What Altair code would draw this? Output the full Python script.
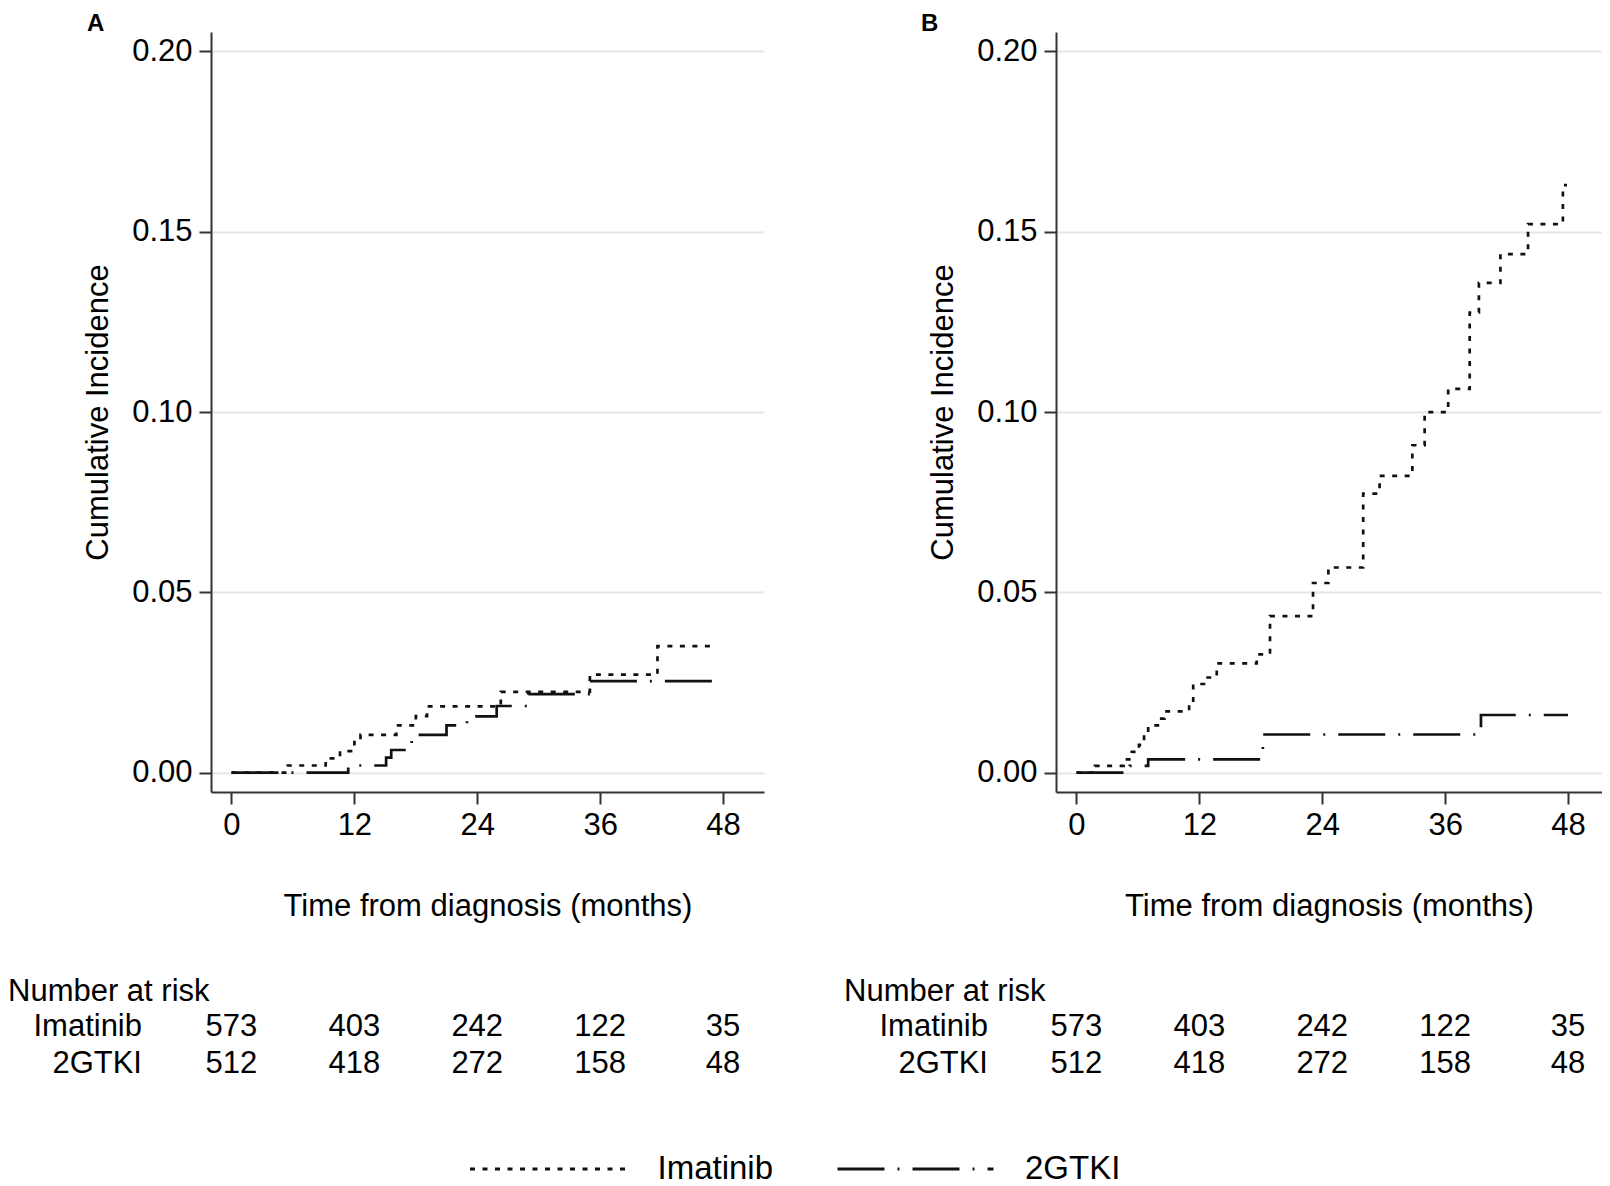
import altair as alt
import pandas as pd

FONT = "Liberation Sans"

# ---------------- data ----------------
GROUPS = ["Imatinib", "2GTKI"]
TICKS_X = [0, 12, 24, 36, 48]
TICKS_Y = [0.00, 0.05, 0.10, 0.15, 0.20]

RISK_MONTHS = [0, 12, 24, 36, 48]
RISK_IMATINIB = [573, 403, 242, 122, 35]
RISK_2GTKI = [512, 418, 272, 158, 48]

# Panel A step curves (months, cumulative incidence)
A_IMA_T = [0, 5.5, 9.2, 10.6, 12.0, 12.6, 16.1, 18.0, 19.1, 26.3, 35.0, 41.6, 47.2]
A_IMA_V = [0, 0.0020, 0.0040, 0.0060, 0.0085, 0.0105, 0.0131, 0.0157, 0.0184,
           0.0224, 0.0272, 0.0351, 0.0351]
A_TKI_T = [0, 11.4, 15.1, 15.6, 17.6, 21.0, 23.0, 25.9, 29.0, 35.0, 47.1]
A_TKI_V = [0, 0.0020, 0.0042, 0.0063, 0.0105, 0.0131, 0.0156, 0.0185, 0.0218,
           0.0254, 0.0254]

# Panel B step curves
B_IMA_T = [0, 1.8, 4.6, 5.4, 6.1, 6.6, 7.0, 8.1, 8.6, 11.0, 11.4, 12.6, 13.7,
           17.6, 18.9, 23.1, 24.6, 28.0, 29.6, 32.8, 34.0, 36.3, 38.4, 39.3,
           41.4, 44.1, 47.5, 47.9]
B_IMA_V = [0, 0.0019, 0.0037, 0.0058, 0.0077, 0.0110, 0.0131, 0.0150, 0.0170,
           0.0200, 0.0246, 0.0264, 0.0303, 0.0328, 0.0434, 0.0526, 0.0569,
           0.0774, 0.0823, 0.0908, 0.1000, 0.1064, 0.1276, 0.1358, 0.1438,
           0.1521, 0.1629, 0.1629]
B_TKI_T = [0, 5.2, 7.0, 18.2, 39.5, 48.0]
B_TKI_V = [0, 0.0019, 0.0037, 0.0106, 0.0160, 0.0160]

# ---------------- layout ----------------
H = 760
W_A = 553
W_B = 546
PX_PER_MONTH = 10.24
Y_DOMAIN = [-0.00535, 0.20538]
DASHES = [[5, 7.5], [47, 13, 2, 13]]
INK = "#111111"


def curve_frame(t, v, group):
    return pd.DataFrame({"month": t, "value": v, "group": group})


def panel(letter, ima_t, ima_v, tki_t, tki_v, width, show_legend,
          letter_x, nar_x, row_x):
    x_max = -2 + width / PX_PER_MONTH
    x_scale = alt.Scale(domain=[-2, x_max], nice=False, zero=False)
    y_scale = alt.Scale(domain=Y_DOMAIN, nice=False, zero=False)

    curves = pd.concat([curve_frame(ima_t, ima_v, GROUPS[0]),
                        curve_frame(tki_t, tki_v, GROUPS[1])],
                       ignore_index=True)

    x_axis = alt.Axis(values=TICKS_X, title="Time from diagnosis (months)",
                      grid=False, labelFlush=False, labelBaseline="alphabetic",
                      labelPadding=30, tickSize=12, titleY=123,
                      titleX=width / 2, titleAlign="center",
                      titleBaseline="alphabetic")
    y_axis = alt.Axis(values=TICKS_Y, format=".2f",
                      title="Cumulative Incidence", grid=True, tickSize=12,
                      labelPadding=7, titleAngle=270, titleX=-104,
                      titleY=H / 2, titleAlign="center",
                      titleBaseline="alphabetic")

    if show_legend:
        legend = alt.Legend(orient="none", legendX=257.5, legendY=1120.3,
                            direction="horizontal", title=None,
                            symbolType="stroke", symbolSize=156 * 156,
                            symbolStrokeWidth=3, symbolStrokeColor=INK,
                            clipHeight=33, labelFont=FONT, labelFontSize=33,
                            labelColor="#000000", labelOffset=30,
                            columnPadding=62.5, padding=0)
    else:
        legend = None

    lines = alt.Chart(curves).mark_line(
        interpolate="step-after", strokeWidth=2.7, color=INK
    ).encode(
        x=alt.X("month:Q", scale=x_scale, axis=x_axis),
        y=alt.Y("value:Q", scale=y_scale, axis=y_axis),
        strokeDash=alt.StrokeDash("group:N",
                                  scale=alt.Scale(domain=GROUPS, range=DASHES),
                                  legend=legend),
    )

    risk = pd.DataFrame({"month": RISK_MONTHS, "ima": RISK_IMATINIB,
                         "tki": RISK_2GTKI})
    risk_ima = alt.Chart(risk).mark_text(
        fontSize=31, align="center", baseline="alphabetic", color="#000000"
    ).encode(x=alt.X("month:Q", scale=x_scale, axis=x_axis),
             y=alt.value(1004.3), text="ima:Q")
    risk_tki = alt.Chart(risk).mark_text(
        fontSize=31, align="center", baseline="alphabetic", color="#000000"
    ).encode(x=alt.X("month:Q", scale=x_scale, axis=x_axis),
             y=alt.value(1041), text="tki:Q")

    def label(txt, x, y, align, size=31, weight="normal"):
        return alt.Chart(pd.DataFrame({"t": [txt]})).mark_text(
            fontSize=size, align=align, baseline="alphabetic",
            fontWeight=weight, color="#000000"
        ).encode(x=alt.value(x), y=alt.value(y), text="t:N")

    nar = label("Number at risk", nar_x, 968.6, "left")
    row1 = label(GROUPS[0], row_x, 1004.3, "right")
    row2 = label(GROUPS[1], row_x, 1041, "right")
    tag = label(letter, letter_x, -1.2, "left", size=24, weight="bold")

    return alt.layer(lines, risk_ima, risk_tki, nar, row1, row2, tag).properties(
        width=width, height=H)


panel_a = panel("A", A_IMA_T, A_IMA_V, A_TKI_T, A_TKI_V, W_A, True,
                -124, -203, -69)
panel_b = panel("B", B_IMA_T, B_IMA_V, B_TKI_T, B_TKI_V, W_B, False,
                -135, -212, -68)

chart = alt.hconcat(panel_a, panel_b, spacing=292, bounds="flush").resolve_legend(
    strokeDash="independent"
).properties(
    padding={"left": 0, "top": 3, "right": 0, "bottom": 0}
).configure(
    font=FONT
).configure_view(
    stroke=None
).configure_axis(
    domainColor="#333333", domainWidth=2, tickColor="#333333", tickWidth=2,
    labelFont=FONT, labelFontSize=31, labelColor="#000000",
    titleFont=FONT, titleFontSize=31, titleFontWeight="normal",
    titleColor="#000000", gridColor="#e6e6e6", gridWidth=2
)

chart.save("out.html", embed_options={"renderer": "svg", "actions": False})
